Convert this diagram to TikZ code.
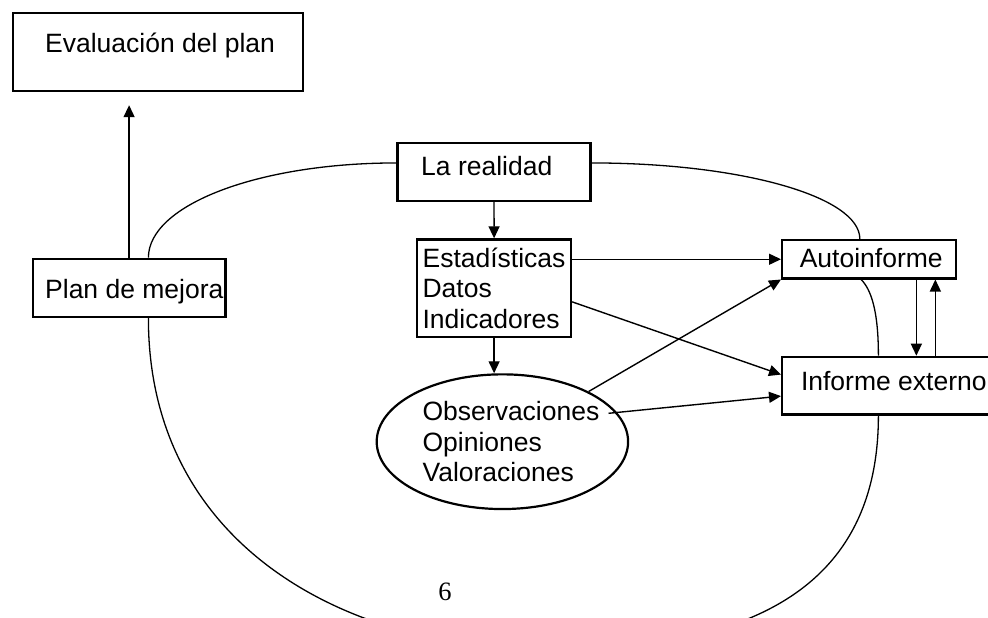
\documentclass[tikz,border=0pt]{standalone}
\usepackage{fontspec}
\setmainfont{Liberation Sans}
\newfontfamily\numfont{Liberation Serif}
\usetikzlibrary{arrows.meta,shapes.geometric}

\begin{document}
\begin{tikzpicture}[x=1pt,y=-1pt,
  caja/.style={draw, line width=2.2pt, fill=white, inner sep=0pt, anchor=north west},
  texto/.style={anchor=base west, align=left, inner sep=0pt, font=\fontsize{26.5}{30.5}\selectfont},
  flecha/.style={line width=1.4pt, -{Triangle[length=12pt,width=11pt]}},
  lazo/.style={line width=1.3pt}]
\clip (0,0) rectangle (988,618);

% Evaluation box
\node[caja, minimum width=290, minimum height=78] (eval) at (12,12) {};
\node[texto] (evaltxt) at (45,53) {Evaluación del plan};

% Reality
\node[caja, minimum width=193, minimum height=58.3] (real) at (396.4,141.7) {};
\node[texto] (realtxt) at (421,175) {La realidad};

% Data box (base = last line)
\node[caja, minimum width=154, minimum height=97.4] (estad) at (416,238.3) {};
\node[texto] (estadtxt) at (422.4,328.3) {Estadísticas\\Datos\\Indicadores};

% Improvement plan
\node[caja, minimum width=192.6, minimum height=58.3] (plan) at (31.7,257.7) {};
\node[texto] (plantxt) at (45,298) {Plan de mejora};

% Reports
\node[caja, minimum width=173.5, minimum height=38.3] (auto) at (781,239) {};
\node[texto] (autotxt) at (799.6,267) {Autoinforme};
\node[caja, minimum width=220, minimum height=57.6] (inf) at (781,355.7) {};
\node[texto] (inftxt) at (800.8,390) {Informe externo};

% Observations
\node[ellipse, draw, line width=2.2pt, fill=white, minimum width=251.4, minimum height=134.7, inner sep=0pt] (obs) at (502.4,441.7) {};
\node[texto] (obstxt) at (422.4,481.7) {Observaciones\\Opiniones\\Valoraciones};
\coordinate (obsout) at (608.5,413.3);

% Page number
\node[anchor=base, inner sep=0pt, font=\numfont\fontsize{26.5}{30}\selectfont] (pag) at (445,600) {6};

% Arrows
\draw[flecha] (plan.north) -- ([yshift=-13pt]plan.north |- eval.south);
\draw[flecha] (real.south) -- (estad.north);
\draw[flecha] (estad.south) -- (estad.south |- obs.north);
\draw[flecha] (estad.east |- auto.west) -- (auto.west);
\draw[flecha] (estad.-10) -- ([yshift=11pt]inf.west);
\draw[flecha] (obs) -- (auto.south west);
\draw[flecha] (obsout) -- ([yshift=-10.5pt]inf.west);
\draw[flecha] ([xshift=47.5pt]auto.south) -- ([xshift=47.5pt]auto.south |- inf.north);
\draw[flecha] ([xshift=66.5pt]auto.south |- inf.north) -- ([xshift=66.5pt]auto.south);

% Big loop
\coordinate (fondo) at (550,650);
\draw[lazo] ([xshift=19.3pt]plan.north) .. controls +(0,-53) and +(-137.5,0) .. ([yshift=9pt]real.west);
\draw[lazo] ([yshift=9pt]real.east) .. controls +(148.7,0) and +(0,-42.7) .. ([xshift=-9pt]auto.north);
\draw[lazo] ([xshift=-7.75pt]auto.south) .. controls +(10,10) and +(0,-45) .. ([xshift=-13.7pt]inf.north);
\draw[lazo] ([xshift=-13.7pt]inf.south) .. controls +(0,166) and +(210,0) .. (fondo)
  .. controls +(-210,0) and +(0,223) .. ([xshift=19.3pt]plan.south);

\end{tikzpicture}
\end{document}
